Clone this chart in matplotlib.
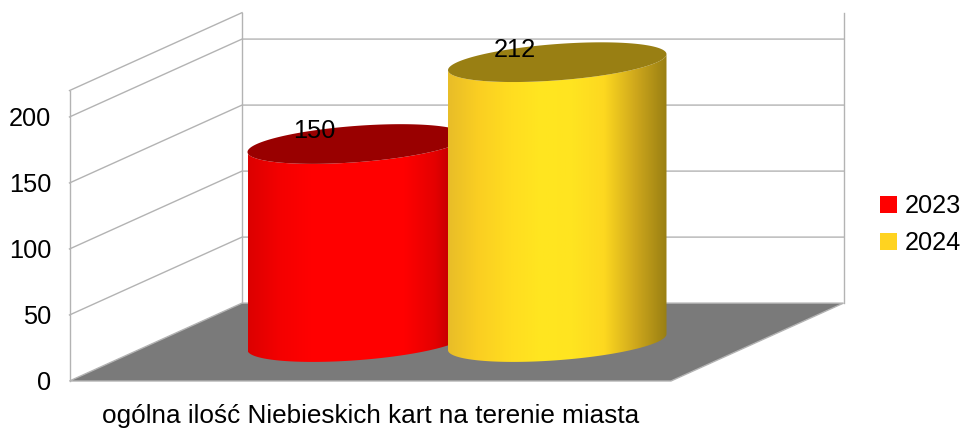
import numpy as np
import matplotlib
matplotlib.use("Agg")
import matplotlib.pyplot as plt
from matplotlib.colors import LinearSegmentedColormap
from matplotlib.patches import Patch, Polygon

plt.rcParams['font.family'] = ['Liberation Sans', 'DejaVu Sans']

category = "ogólna ilość Niebieskich kart na terenie miasta"
series = ["2023", "2024"]
values = [150, 212]
ticks = [0, 50, 100, 150, 200]

colors = ["#ff0000", "#ffd320"]
top_colors = ["#990000", "#997f13"]
shades = [
    ["#dc0000", "#f40000", "#ff0000", "#ff0000", "#ff0000", "#ff0000", "#e40000", "#a00000"],
    ["#e8bd28", "#fbcf22", "#ffdd20", "#ffe620", "#ffe420", "#fdd820", "#cfa81c", "#997f13"],
]

wall_top = 220
# oblique depth vector, x in pixels and y in chart values
depth_x = 172.5
depth_y = 59
floor_left = 69.5
floor_right = 671
bar_x = [270.5, 471]
radius_x = 100
radius_depth = 0.255
line_color = "#b3b3b3"

fig = plt.figure(figsize=(9.61, 4.28), dpi=100)
ax = fig.add_axes([0, 0, 1, 1])
ax.axis("off")


def project(x, depth, value):
    return x + depth * depth_x, value + depth * depth_y


def ellipse(x, value, t):
    depth = 0.5 + radius_depth * np.sin(t)
    return project(x + radius_x * np.cos(t), depth, value)


# floor
corners = [project(floor_left, 0, 0), project(floor_right, 0, 0),
           project(floor_right, 1, 0), project(floor_left, 1, 0)]
ax.add_patch(Polygon(corners, closed=True, facecolor="#7a7a7a", edgecolor=line_color, lw=1, zorder=2))

# walls
for v in ticks[1:]:
    xs, ys = zip(project(floor_left, 0, v), project(floor_left, 1, v), project(floor_right, 1, v))
    ax.plot(xs, ys, color=line_color, lw=1, zorder=1)
xs, ys = zip(project(floor_left, 0, wall_top), project(floor_left, 1, wall_top))
ax.plot(xs, ys, color=line_color, lw=1, zorder=1)
for depth, x in [(0, floor_left), (1, floor_left), (1, floor_right)]:
    xs, ys = zip(project(x, depth, 0), project(x, depth, wall_top))
    ax.plot(xs, ys, color=line_color, lw=1, zorder=1)

# cylinders
for i in range(len(values)):
    t_left = np.pi + np.arctan2(radius_depth * depth_x, radius_x)
    t_front = np.linspace(t_left, t_left + np.pi, 80)
    bx, by = ellipse(bar_x[i], 0, t_front)
    tx, ty = ellipse(bar_x[i], values[i], t_front[::-1])
    outline = np.column_stack([np.r_[bx, tx], np.r_[by, ty]])
    body = Polygon(outline, closed=True, facecolor="none", edgecolor="none", zorder=3 + i)
    ax.add_patch(body)
    cmap = LinearSegmentedColormap.from_list("shade", shades[i])
    extent = [outline[:, 0].min(), outline[:, 0].max(), outline[:, 1].min(), outline[:, 1].max()]
    img = ax.imshow(np.linspace(0, 1, 256)[None, :], cmap=cmap, extent=extent, aspect="auto", zorder=3 + i)
    img.set_clip_path(body)

    t = np.linspace(0, 2 * np.pi, 160)
    ex, ey = ellipse(bar_x[i], values[i], t)
    ax.fill(ex, ey, color=top_colors[i], lw=0, zorder=3 + i)

ax.set_xlim(0, 961)
ax.set_ylim(-35.6, 288.6)

# value labels
for i in range(len(values)):
    lx, ly = project(bar_x[i] - 42, 0.5, values[i] + 9.5)
    ax.text(lx, ly, str(values[i]), ha="center", va="center", fontsize=18.3, color="black", zorder=10)

# axis labels
for v in ticks:
    ax.text(51.5, v - 1.2, str(v), ha="right", va="center", fontsize=18.3, color="black")
ax.text(371, -26.5, category, ha="center", va="center", fontsize=18.8, color="black")

handles = [Patch(facecolor=colors[i], edgecolor="none", label=series[i]) for i in range(len(series))]
ax.legend(handles=handles, loc="center left", bbox_to_anchor=(880 / 961, 0.475), frameon=False,
          fontsize=18.2, handlelength=0.67, handleheight=0.67, handletextpad=0.3, labelspacing=0.52,
          borderpad=0, borderaxespad=0)

fig.savefig("out.png", dpi=100)
